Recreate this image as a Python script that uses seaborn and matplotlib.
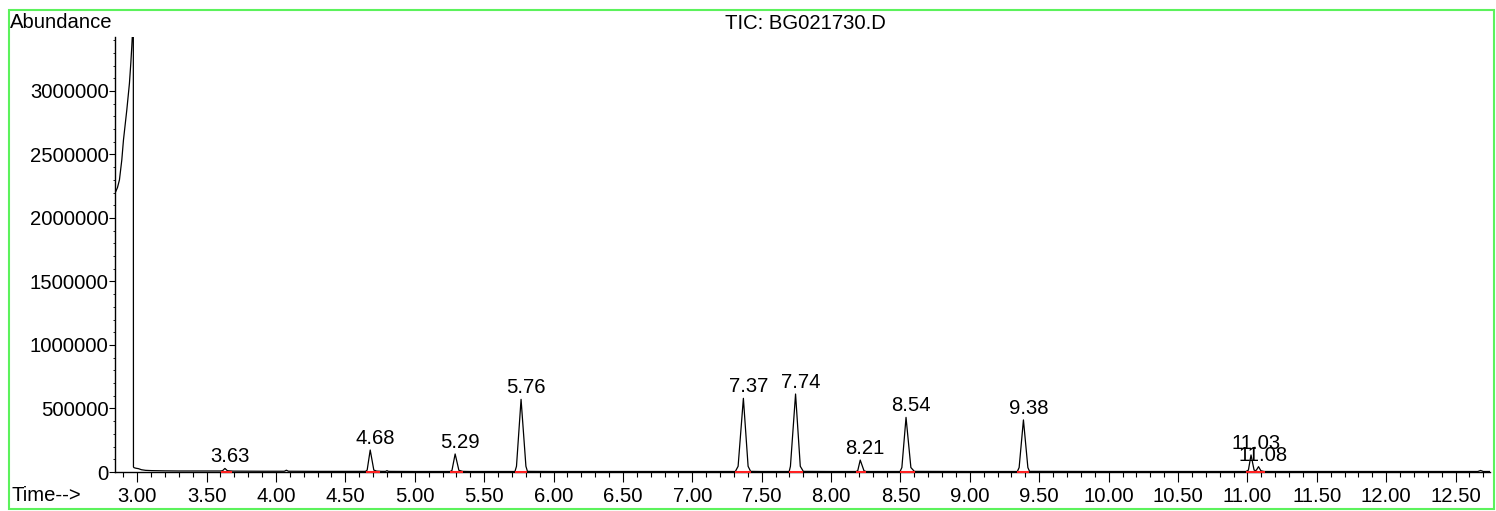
import numpy as np
import matplotlib
matplotlib.use("Agg")
import matplotlib.pyplot as plt
from matplotlib.ticker import MultipleLocator
from matplotlib.patches import Rectangle
import seaborn as sns

# ---------------- data ----------------
# TIC trace: retention time (min) and abundance (millions of counts)
trace_time = [
    2.841, 2.858, 2.872, 2.889, 2.901, 2.925, 2.944, 2.954, 2.961, 2.967, 2.972, 2.973,
    2.977, 2.990, 3.010, 3.030, 3.060, 3.100, 3.200, 3.300, 3.400, 3.500, 3.600,
    3.615, 3.632, 3.650, 3.690,
    3.900, 4.060, 4.075, 4.090, 4.300, 4.500,
    4.645, 4.657, 4.679, 4.705, 4.725, 4.760,
    4.790, 4.800, 4.810, 5.000,
    5.255, 5.268, 5.291, 5.318, 5.345, 5.400,
    5.722, 5.733, 5.766, 5.801, 5.812, 6.000, 7.000,
    7.310, 7.330, 7.368, 7.402, 7.420, 7.500,
    7.698, 7.707, 7.744, 7.778, 7.800, 8.000,
    8.180, 8.192, 8.210, 8.237, 8.252, 8.400,
    8.497, 8.510, 8.540, 8.575, 8.600, 9.000,
    9.342, 9.355, 9.386, 9.418, 9.430, 10.000,
    10.990, 11.007, 11.026, 11.048, 11.062, 11.080, 11.097, 11.120, 11.500,
    12.600, 12.660, 12.680, 12.700, 12.748,
]
trace_abund_m = [
    2.197, 2.240, 2.300, 2.457, 2.614, 2.850, 3.060, 3.220, 3.350, 3.480, 3.600, 0.040,
    0.034, 0.030, 0.026, 0.018, 0.013, 0.011, 0.009, 0.008, 0.008, 0.008, 0.008,
    0.010, 0.028, 0.010, 0.007,
    0.006, 0.006, 0.014, 0.006, 0.005, 0.005,
    0.005, 0.015, 0.173, 0.015, 0.007, 0.005,
    0.005, 0.011, 0.005, 0.004,
    0.004, 0.012, 0.142, 0.013, 0.005, 0.004,
    0.004, 0.045, 0.572, 0.045, 0.005, 0.004, 0.004,
    0.004, 0.045, 0.580, 0.045, 0.005, 0.004,
    0.004, 0.045, 0.614, 0.045, 0.005, 0.004,
    0.004, 0.010, 0.094, 0.010, 0.004, 0.004,
    0.004, 0.035, 0.430, 0.035, 0.005, 0.004,
    0.004, 0.035, 0.410, 0.035, 0.005, 0.004,
    0.004, 0.015, 0.134, 0.015, 0.010, 0.042, 0.010, 0.004, 0.004,
    0.004, 0.004, 0.012, 0.004, 0.004,
]

# Integrated peaks: label, apex time, apex abundance (millions)
peak_labels = ["3.63", "4.68", "5.29", "5.76", "7.37", "7.74", "8.21", "8.54", "9.38", "11.03", "11.08"]
peak_time = [3.632, 4.679, 5.291, 5.766, 7.368, 7.744, 8.210, 8.540, 9.386, 11.026, 11.080]
peak_abund_m = [0.028, 0.173, 0.142, 0.572, 0.580, 0.614, 0.094, 0.430, 0.410, 0.134, 0.042]

# Integration baselines (red): start and end times
base_start = [3.603, 4.650, 5.255, 5.723, 7.308, 7.700, 8.178, 8.497, 9.342, 10.990, 11.062]
base_end = [3.686, 4.746, 5.347, 5.808, 7.421, 7.800, 8.252, 8.605, 9.429, 11.062, 11.125]

xtick_values = [3.0, 3.5, 4.0, 4.5, 5.0, 5.5, 6.0, 6.5, 7.0, 7.5, 8.0, 8.5, 9.0, 9.5,
                10.0, 10.5, 11.0, 11.5, 12.0, 12.5]
xtick_labels = ["3.00", "3.50", "4.00", "4.50", "5.00", "5.50", "6.00", "6.50", "7.00",
                "7.50", "8.00", "8.50", "9.00", "9.50", "10.00", "10.50", "11.00",
                "11.50", "12.00", "12.50"]
ytick_values = [0, 500000, 1000000, 1500000, 2000000, 2500000, 3000000]
ytick_labels = ["0", "500000", "1000000", "1500000", "2000000", "2500000", "3000000"]

title_text = "TIC: BG021730.D"
ylabel_text = "Abundance"
xlabel_text = "Time-->"

# ---------------- styling ----------------
sns.set_style("white")
plt.rcParams["font.family"] = ["Liberation Sans", "DejaVu Sans"]
plt.rcParams["text.color"] = "black"
plt.rcParams["xtick.color"] = "black"
plt.rcParams["ytick.color"] = "black"
plt.rcParams["axes.labelcolor"] = "black"
FS = 14.6

W, H = 1496, 511
fig = plt.figure(figsize=(W / 100, H / 100), dpi=100)
fig.patch.set_facecolor("white")

ax_left, ax_right, ax_top, ax_bottom = 115, 1490, 37, 472
ax = fig.add_axes([ax_left / W, 1 - ax_bottom / H, (ax_right - ax_left) / W, (ax_bottom - ax_top) / H])
ax.set_facecolor("white")

t = np.array(trace_time)
a = np.array(trace_abund_m) * 1e6
sns.lineplot(x=t, y=a, ax=ax, color="black", linewidth=0.9, sort=False, estimator=None)

# integration baselines
ax.hlines([2500] * len(base_start), base_start, base_end, colors="#ff2020", linewidth=1.5,
          zorder=5, clip_on=False)
ax.vlines([11.062], 0, 12000, colors="#ff2020", linewidth=1.0, zorder=5)

# peak labels
for lab, pt, pa in zip(peak_labels, peak_time, peak_abund_m):
    ax.annotate(lab, xy=(pt, pa * 1e6), xytext=(5, 6), textcoords="offset pixels",
                ha="center", va="baseline", fontsize=FS, color="black")

ax.set_xlim(2.84, 12.748)
ax.set_ylim(0, 3.425e6)

for s in ["top", "right"]:
    ax.spines[s].set_visible(False)
for s in ["left", "bottom"]:
    ax.spines[s].set_color("black")
    ax.spines[s].set_linewidth(1.0)

ax.set_xticks(xtick_values)
ax.set_xticklabels(xtick_labels)
ax.set_yticks(ytick_values)
ax.set_yticklabels(ytick_labels)
ax.xaxis.set_minor_locator(MultipleLocator(0.1))
ax.yaxis.set_minor_locator(MultipleLocator(100000))

ax.tick_params(axis="x", which="major", direction="out", length=7.2, width=0.8,
               labelsize=FS, pad=3.5, colors="black", bottom=True)
ax.tick_params(axis="x", which="minor", direction="out", length=3.6, width=0.8, bottom=True)
ax.tick_params(axis="y", which="major", direction="out", length=4.3, width=0.8,
               labelsize=FS, pad=0.3, colors="black", left=True)
ax.tick_params(axis="y", which="minor", direction="out", length=1.8, width=0.6, left=True)
ax.set_xlabel("")
ax.set_ylabel("")

# figure texts
fig.text(10 / W, 1 - 22.5 / H, ylabel_text, ha="left", va="center", fontsize=FS, color="black")
fig.text(805 / W, 1 - 23 / H, title_text, ha="center", va="center", fontsize=FS, color="black")
fig.text(11 / W, 1 - 495 / H, xlabel_text, ha="left", va="center", fontsize=FS, color="black")

# green frame
fig.patches.append(Rectangle((9 / W, 1 - 509 / H), (1494 - 9) / W, (509 - 10) / H,
                             transform=fig.transFigure, fill=False,
                             edgecolor="#5cf25c", linewidth=1.5))

fig.savefig("out.png", dpi=100, facecolor="white")
